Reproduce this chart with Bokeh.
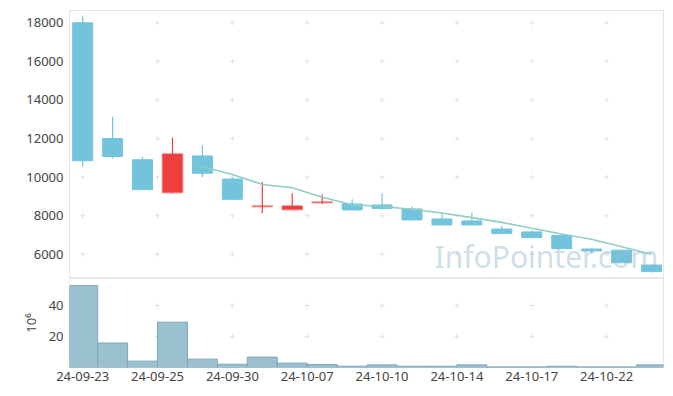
from bokeh.plotting import figure
from bokeh.layouts import column
from bokeh.models import Range1d, FixedTicker, ColumnDataSource, Label
from bokeh.embed import file_html
from bokeh.resources import INLINE

dates = ["24-09-23", "24-09-24", "24-09-25", "24-09-26", "24-09-27", "24-09-30",
         "24-10-02", "24-10-04", "24-10-07", "24-10-08", "24-10-10", "24-10-11",
         "24-10-14", "24-10-15", "24-10-16", "24-10-17", "24-10-18", "24-10-21",
         "24-10-22", "24-10-23"]
opens = [18000, 12000, 10900, 9200, 11100, 9900, 8480, 8320, 8680, 8610,
         8560, 8350, 7830, 7730, 7310, 7160, 6970, 6270, 6210, 5440]
highs = [18380, 13130, 11050, 12050, 11650, 9980, 9750, 9170, 9100, 8850,
         9170, 8460, 8130, 8180, 7470, 7250, 6970, 6300, 6210, 5440]
lows = [10550, 10970, 9350, 9180, 10000, 8800, 8130, 8320, 8600, 8270,
        8320, 7780, 7520, 7490, 7070, 6860, 6290, 6050, 5560, 5050]
closes = [10850, 11070, 9350, 11200, 10200, 8850, 8500, 8500, 8710, 8300,
          8370, 7780, 7520, 7520, 7070, 6860, 6290, 6170, 5560, 5100]
volumes = [52.8, 15.8, 4.1, 29.2, 5.4, 2.1, 6.7, 2.8, 1.9, 0.85,
           1.7, 0.8, 0.8, 1.7, 0.4, 0.4, 0.8, 0.4, 0.4, 1.7]
price_ticks = [6000, 8000, 10000, 12000, 14000, 16000, 18000]
volume_ticks = [20, 40]
x_ticks = [0, 2.5, 5, 7.5, 10, 12.5, 15, 17.5]
ma_window = 5

BLUE = "#72c4dd"
RED = "#ef3e3e"
FONT = "Noto Sans"

idx = list(range(len(dates)))
up = [c > o for o, c in zip(opens, closes)]
colors = [RED if u else BLUE for u in up]
src = ColumnDataSource(dict(
    x=idx, o=opens, h=highs, l=lows, c=closes,
    top=[max(o, c) for o, c in zip(opens, closes)],
    bot=[min(o, c) for o, c in zip(opens, closes)],
    color=colors, lalpha=[0.45 if u else 1.0 for u in up],
    lwidth=[2.0 if u else 1.0 for u in up], vol=volumes))

ma_x, ma_y = [], []
for i in range(ma_window - 1, len(closes)):
    ma_x.append(i)
    ma_y.append(sum(closes[i - ma_window + 1:i + 1]) / ma_window)

xr = Range1d(-0.44, 19.40)


def style(p):
    p.background_fill_color = "white"
    p.border_fill_color = "white"
    p.outline_line_color = "#e6e6e6"
    p.xgrid.visible = False
    p.ygrid.visible = False
    for ax in p.yaxis:
        ax.axis_line_color = None
        ax.major_tick_line_color = None
        ax.minor_tick_line_color = None
        ax.major_tick_out = 0
        ax.minor_tick_out = 0
        ax.major_label_text_font = FONT
        ax.major_label_text_font_size = "13px"
        ax.major_label_text_color = "#444444"
        ax.major_label_standoff = 6


p1 = figure(width=668, height=278, x_range=xr, y_range=Range1d(4743, 18640),
            output_backend="svg", toolbar_location=None,
            min_border_left=69, min_border_right=5, min_border_top=10, min_border_bottom=0)
style(p1)
p1.xaxis.visible = False
p1.yaxis.ticker = FixedTicker(ticks=price_ticks)

gx = [x for x in x_ticks for _ in price_ticks]
gy = [y for _ in x_ticks for y in price_ticks]
p1.scatter(gx, gy, marker="cross", size=5, line_color="#e3e3e3", line_width=1)

p1.segment(x0="x", y0="h", x1="x", y1="l", color="color", line_width=1.2, source=src)
p1.vbar(x="x", width=0.667, top="top", bottom="bot", fill_color="color",
        line_color="color", line_alpha="lalpha", line_width="lwidth", source=src)
p1.line(ma_x, ma_y, line_color="#8ecfc4", line_width=1.6)

p1.add_layout(Label(x=15.49, y=5900, text="InfoPointer.com", text_font=FONT,
                    text_font_size="30px", text_color="#8fb6cc", text_alpha=0.45,
                    text_align="center", text_baseline="middle"))

p2 = figure(width=668, height=112, x_range=xr, y_range=Range1d(0, 57.4),
            output_backend="svg", toolbar_location=None,
            min_border_left=69, min_border_right=5, min_border_top=0, min_border_bottom=23)
style(p2)
p2.yaxis.ticker = FixedTicker(ticks=volume_ticks)
p2.yaxis.axis_label = "10⁶"
p2.yaxis.axis_label_text_font = FONT
p2.yaxis.axis_label_text_font_style = "normal"
p2.yaxis.axis_label_text_font_size = "13px"
p2.yaxis.axis_label_text_color = "#444444"
p2.yaxis.axis_label_standoff = 6

p2.xaxis.ticker = FixedTicker(ticks=x_ticks)
p2.xaxis.major_label_overrides = {
    (int(t) if t == int(t) else t): dates[int(round(t))] for t in x_ticks}
p2.xaxis.axis_line_color = None
p2.xaxis.major_tick_line_color = None
p2.xaxis.minor_tick_line_color = None
p2.xaxis.major_tick_out = 0
p2.xaxis.minor_tick_out = 0
p2.xaxis.major_label_standoff = 4
p2.xaxis.major_label_text_font = FONT
p2.xaxis.major_label_text_font_size = "13px"
p2.xaxis.major_label_text_color = "#444444"

gx2 = [x for x in x_ticks for _ in volume_ticks]
gy2 = [y for _ in x_ticks for y in volume_ticks]
p2.scatter(gx2, gy2, marker="cross", size=5, line_color="#e3e3e3", line_width=1)
p2.vbar(x="x", width=1.0, top="vol", bottom=0, fill_color="#9bc0cf",
        line_color="#7ca7bb", line_width=1, source=src)

layout = column(p1, p2, spacing=0)
open("out.html", "w").write(file_html(layout, INLINE))
